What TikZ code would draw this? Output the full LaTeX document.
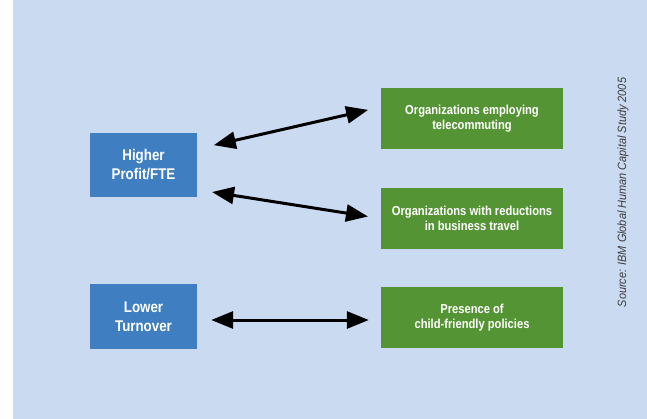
\documentclass[tikz,border=0pt]{standalone}
\usepackage{fontspec}
\setmainfont[FakeStretch=0.86]{Liberation Sans}
\newfontfamily\sourcefont[FakeStretch=0.91]{Liberation Sans}
\usetikzlibrary{arrows.meta}

\definecolor{panel}{HTML}{CADAF0}
\definecolor{factor}{HTML}{3F7FC1}
\definecolor{practice}{HTML}{559434}
\definecolor{sourcegray}{HTML}{3C3C3C}

\begin{document}
\begin{tikzpicture}[
            x=1pt, y=-1pt,
            outcome/.style={fill=factor, text=white, font=\bfseries\fontsize{15.5}{19}\selectfont,
                    align=center, minimum width=107pt, minimum height=64pt, inner sep=0pt},
            cause/.style={fill=practice, text=white, font=\bfseries\fontsize{13}{15}\selectfont,
                    align=center, minimum width=182pt, minimum height=61pt, inner sep=0pt},
            link/.style={line width=3pt, {Triangle[length=22pt,width=17pt]}-{Triangle[length=22pt,width=17pt]}}
        ]
        \fill[white] (0,0) rectangle (647,419);
        \fill[panel] (13,0) rectangle (647,419);

        \node[outcome] (profit) at (143.5,165) {Higher\\Profit/FTE};
        \node[outcome] (turnover) at (143.5,316.5) {Lower\\Turnover};

        \node[cause] (tele) at (472,118.5) {Organizations employing\\telecommuting};
        \node[cause] (travel) at (472,218.5) {Organizations with reductions\\in business travel};
        \node[cause] (child) at (472,317.5) {Presence of\\child-friendly policies};

        \draw[link, shorten <=17pt, shorten >=13pt] ([yshift=16pt]profit.east) -- ([yshift=11.5pt]tele.west);
        \draw[link, shorten <=15pt, shorten >=13pt] ([yshift=-24.7pt]profit.east) -- (travel.west);
        \draw[link, shorten <=14pt, shorten >=12pt] ([yshift=-3.5pt]turnover.east) -- ([yshift=-2.5pt]child.west);

        % source line along the right edge
        \node[rotate=90, text=sourcegray, font=\sourcefont\itshape\fontsize{12}{14}\selectfont, inner sep=0pt]
            (source) at (623,192.5) {Source: IBM Global Human Capital Study 2005};
    \end{tikzpicture}
\end{document}
